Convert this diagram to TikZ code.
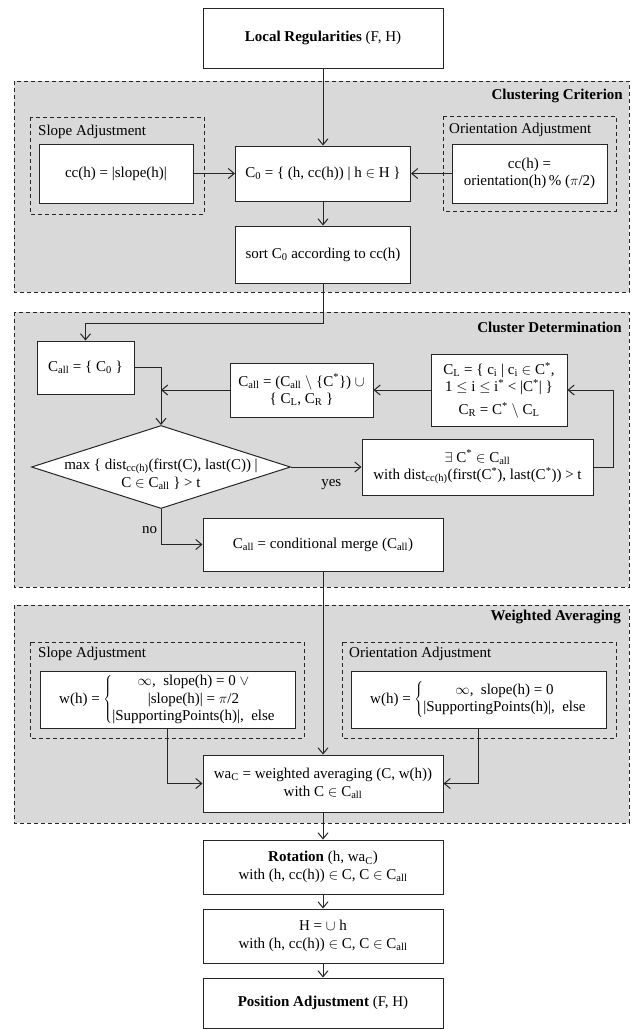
\documentclass[tikz,border=0pt]{standalone}
\usepackage{fontspec}
\setmainfont{Liberation Serif}
\usetikzlibrary{arrows.meta, shapes.geometric}
\newcommand{\fs}{\fontsize{15}{17.5}\selectfont}
\newcommand{\Call}{C\textsubscript{all}}
\newcommand{\Cst}{C\textsuperscript{*}}
\tikzset{
    block/.style={draw=black!85, fill=white, line width=1pt, align=center,
        inner sep=2pt},
    area/.style={draw=black!85, fill=gray!30, line width=1pt,
        dash pattern=on 4pt off 3pt},
    subarea/.style={draw=black!85, line width=1pt, dash pattern=on 4pt off 3pt},
    areatitle/.style={anchor=east, inner sep=0pt, font=\fs\bfseries},
    subtitle/.style={anchor=west, inner sep=0pt},
    decision/.style={diamond, draw=black!85, fill=white, line width=1pt,
        align=center, shape aspect=3.1, inner xsep=-60pt, inner ysep=0pt},
    flow/.style={->, line width=1pt, draw=black!85},
}

\begin{document}
\begin{tikzpicture}[x=1pt, y=-1pt, font=\fs,
        >={Straight Barb[length=6pt, width=10pt]}]
    \useasboundingbox (0, 0) rectangle (633, 1029);

    \draw[area] (14, 81) rectangle (629, 292); % Clustering criterion
    \draw[area] (14, 312) rectangle (629, 587); % Cluster determination
    \draw[area] (14, 605) rectangle (629, 823); % Weighted averaging
    \foreach \xa/\ya/\xb/\yb in {30/117/204/214, 443/116/616/211,
        30/642/304/738, 342/642/616/738}
        \draw[subarea] (\xa, \ya) rectangle (\xb, \yb);

    \node[areatitle] (crit) at (623, 96) {Clustering Criterion};
    \node[areatitle] (determ) at (622, 327) {Cluster Determination};
    \node[areatitle] (weight) at (621, 617) {Weighted Averaging};
    \node[subtitle] (slopelbl) at (38, 132) {Slope Adjustment};
    \node[subtitle] (orientlbl) at (449, 130) {Orientation Adjustment};
    \node[subtitle] (wslopelbl) at (38, 654) {Slope Adjustment};
    \node[subtitle] (worientlbl) at (349, 654) {Orientation Adjustment};

    \node[block, minimum width=240pt, minimum height=60pt] (local) at (323, 38)
        {\textbf{Local Regularities} (F, H)};
    \node[block, minimum width=154pt, minimum height=59pt] (cslope)
        at (116, 173.5) {cc(h) = |slope(h)|};
    \node[block, minimum width=175pt, minimum height=55pt] (c0) at (323, 173.5)
        {C\textsubscript{0} = \{ (h, cc(h)) | h $\in$ H \}};
    \node[block, minimum width=155pt, minimum height=59pt] (corient)
        at (529.5, 173.5) {cc(h) =\\ orientation(h)\,\% ($\pi$/2)};
    \node[block, minimum width=175pt, minimum height=57pt] (sort)
        at (323, 254.5) {sort C\textsubscript{0} according to cc(h)};

    \node[block, minimum width=97pt, minimum height=53pt] (call)
        at (85.5, 367.5) {\Call{} = \{ C\textsubscript{0} \}};
    \node[block, minimum width=143pt, minimum height=54pt] (mid) at (301.5, 390)
        {\Call{} = (\Call{} $\setminus$ \{\Cst\}) $\cup$\\
        \{ C\textsubscript{L}, C\textsubscript{R} \}};
    \node[block, minimum width=136pt, minimum height=72pt] (cl) at (499, 390)
        {C\textsubscript{L} = \{ c\textsubscript{i} | c\textsubscript{i}
        $\in$ \Cst,\\ 1 $\leq$ i $\leq$ i\textsuperscript{*} < |\Cst| \}\\[5pt]
        C\textsubscript{R} = \Cst{} $\setminus$ C\textsubscript{L}};
    \node[decision, minimum width=259pt, minimum height=83pt] (test)
        at (161, 467) {\rule{0pt}{25pt}max \{ dist\textsubscript{cc(h)}(first(C),
        last(C)) |\\ C $\in$ \Call{} \} > t};
    \node[block, minimum width=231pt, minimum height=56pt] (exists)
        at (477.5, 467) {$\exists$ \Cst{} $\in$ \Call\\
        with dist\textsubscript{cc(h)}(first(\Cst), last(\Cst)) > t};
    \node[block, minimum width=240pt, minimum height=53pt] (merge)
        at (323, 544.5) {\Call{} = conditional merge (\Call)};

    \node[block, minimum width=255pt, minimum height=57pt, inner sep=1pt]
        (wslope) at (167.5, 699.5) {w(h) = $\left\{\begin{tabular}{@{}c@{}}
        $\infty$,\enspace slope(h) = 0 $\vee$\\ |slope(h)| = $\pi$/2\\
        |SupportingPoints(h)|,\enspace else\end{tabular}\right.$};
    \node[block, minimum width=255pt, minimum height=57pt] (worient)
        at (478.5, 699.5) {w(h) = $\left\{\begin{tabular}{@{}c@{}}
        $\infty$,\enspace slope(h) = 0\\
        |SupportingPoints(h)|,\enspace else\end{tabular}\right.$};
    \node[block, minimum width=240pt, minimum height=57pt] (wa) at (323, 783.5)
        {wa\textsubscript{C} = weighted averaging (C, w(h))\\
        with C $\in$ \Call};

    \node[block, minimum width=240pt, minimum height=54pt] (rot) at (323, 867)
        {\textbf{Rotation} (h, wa\textsubscript{C})\\
        with (h, cc(h)) $\in$ C, C $\in$ \Call};
    \node[block, minimum width=240pt, minimum height=54pt] (hset) at (323, 936)
        {H = $\cup$ h\\ with (h, cc(h)) $\in$ C, C $\in$ \Call};
    \node[block, minimum width=240pt, minimum height=50pt] (pos) at (323, 1003)
        {\textbf{Position Adjustment} (F, H)};

    % Connectors
    \foreach \a/\b in {local/c0, c0/sort, merge/wa, wa/rot, rot/hset, hset/pos}
        \draw[flow] (\a) -- (\b);
    \draw[flow] (cslope) -- (c0);
    \draw[flow] (corient) -- (c0);

    \coordinate (split) at (323, 323);
    \draw[flow] (sort) -- (split) -| (call);
    \draw[flow] (call) -| (test);
    \draw[flow] (mid) -- (mid -| test);
    \draw[flow] (cl) -- (mid);
    \draw[flow] (test) -- node[below=9pt, xshift=5pt] (yes) {yes} (exists);
    \draw[flow] (exists.east) -- ++(20, 0) |- (cl.east);
    \draw[flow] (test.south) |- node[pos=.3, left] (no) {no} (merge.west);

    \draw[flow] (wslope.south) |- (wa.west);
    \draw[flow] (worient.south) |- (wa.east);
\end{tikzpicture}
\end{document}
